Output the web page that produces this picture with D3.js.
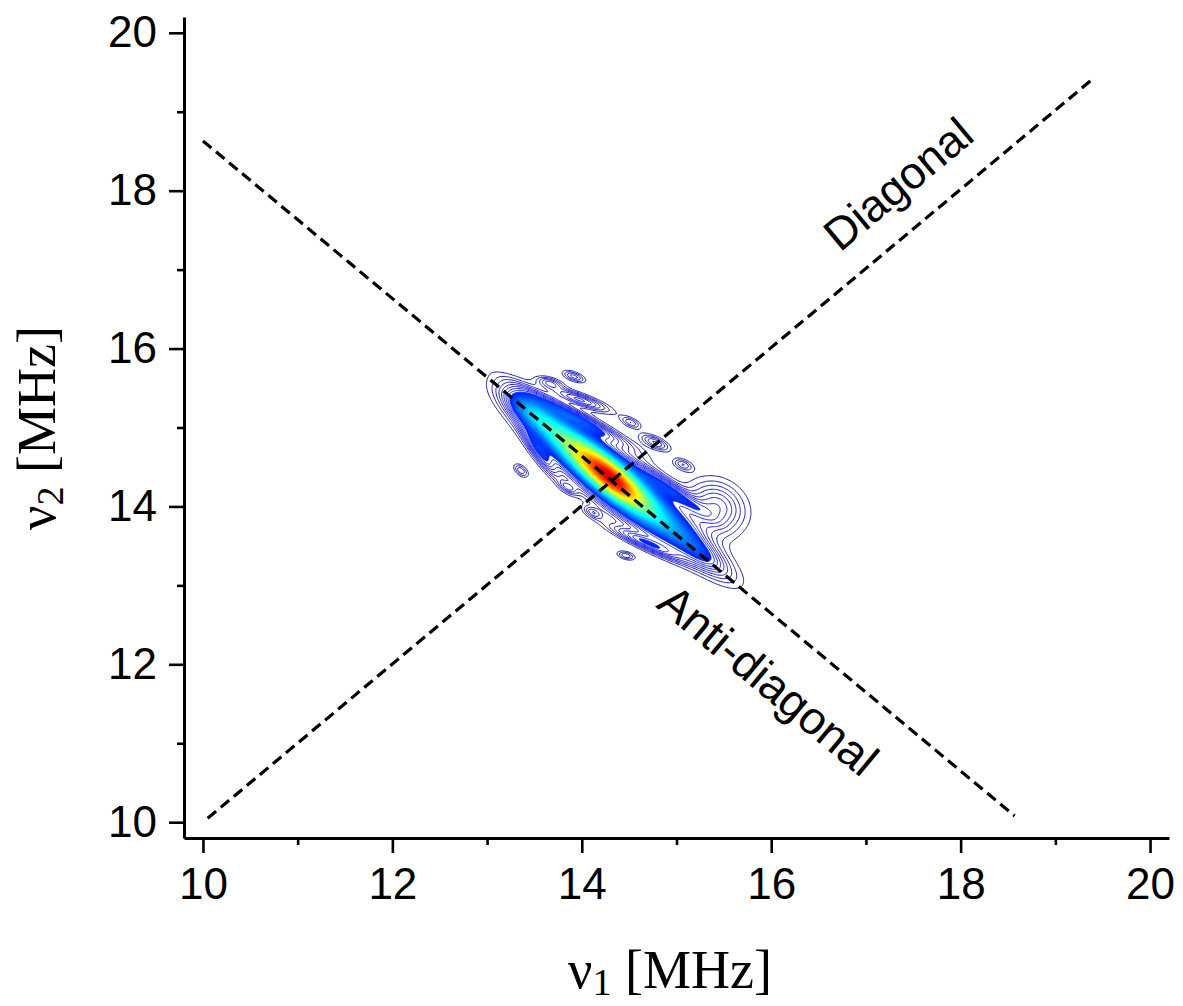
<!DOCTYPE html>
<html>
<head>
<meta charset="utf-8">
<script src="https://cdn.jsdelivr.net/npm/d3@7"></script>
<style>
  body { margin: 0; background: #fff; }
  svg { display: block; }
</style>
</head>
<body>
<div id="chart"></div>
<script>
var W = 1183, H = 1006;

// axis ticks
var xMajor = [10, 12, 14, 16, 18, 20];
var xMinor = [11, 13, 15, 17, 19];
var yMajor = [10, 12, 14, 16, 18, 20];
var yMinor = [11, 13, 15, 17, 19];

// guide lines (MHz)
var diagX = [10.05, 19.40];
var diagY = [10.05, 19.42];
var antiX = [10.00, 18.57];
var antiY = [18.63, 10.08];

// spectrum lobes:
// centre (MHz), relative peak, spread along / across (MHz), tilt (deg)
// first seven build the main anti-diagonal ridge, the rest are the side streaks and islands
var lobeX   = [14.31, 14.36, 13.90, 13.476, 14.784, 15.244, 14.36,
               13.98, 13.98, 13.664, 13.917, 14.519, 14.773, 15.068, 14.931, 15.417,
               13.558, 13.358, 13.854, 14.118, 14.667, 14.466];
var lobeY   = [14.36, 14.31, 14.77, 15.194, 13.886, 13.426, 14.31,
               15.10, 15.353, 15.568, 15.645, 15.062, 14.809, 14.530, 14.214, 13.986,
               14.682, 14.454, 14.239, 13.923, 13.543, 13.378];
var lobeAmp = [0.45, 0.22, 0.28, 0.22, 0.15, 0.12, 0.10,
               0.14, 0.12, 0.08, 0.08, 0.07, 0.09, 0.07, 0.13, 0.12,
               0.12, 0.07, 0.07, 0.07, 0.12, 0.07];
var lobeLen = [0.30, 0.50, 0.35, 0.27, 0.35, 0.30, 0.90,
               0.42, 0.23, 0.10, 0.09, 0.08, 0.12, 0.08, 0.30, 0.24,
               0.24, 0.07, 0.08, 0.08, 0.30, 0.07];
var lobeWid = [0.115, 0.18, 0.14, 0.11, 0.14, 0.10, 0.18,
               0.055, 0.05, 0.045, 0.04, 0.04, 0.05, 0.045, 0.06, 0.20,
               0.05, 0.04, 0.04, 0.04, 0.05, 0.035];
var lobeAng = [-45, -45, -45, -45, -45, -45, -45,
               -33, -24, -20, -25, -30, -30, -30, -40, -60,
               -60, -50, -40, -35, -29, -20];

var levels = d3.range(0.03, 1.0, 0.018);
var fillFrom = 0.16;

var svg = d3.select("#chart").append("svg")
  .attr("width", W).attr("height", H)
  .style("background", "#fff");

var x = d3.scaleLinear().domain([9.8, 20.2]).range([184, 1169]);
var y = d3.scaleLinear().domain([9.8, 20.2]).range([838, 17]);

// ---- contour field on a grid
var step = 0.012, gx0 = 12.7, gy0 = 12.7, nx = 284, ny = 284;
var grid = new Float64Array(nx * ny);
var rad = lobeAng.map(function(a) { return a * Math.PI / 180; });
for (var j = 0; j < ny; j++) {
  var py = gy0 + j * step;
  for (var i = 0; i < nx; i++) {
    var px = gx0 + i * step, v = 0;
    for (var k = 0; k < lobeX.length; k++) {
      var dx = px - lobeX[k], dy = py - lobeY[k];
      var c = Math.cos(rad[k]), s = Math.sin(rad[k]);
      var u = dx * c + dy * s, w = -dx * s + dy * c;
      v += lobeAmp[k] * Math.exp(-(u * u) / (2 * lobeLen[k] * lobeLen[k]) - (w * w) / (2 * lobeWid[k] * lobeWid[k]));
    }
    grid[j * nx + i] = v;
  }
}
var vmax = d3.max(grid);
for (var q = 0; q < grid.length; q++) grid[q] /= vmax;

function clamp(v) { return Math.max(0, Math.min(1, v)); }
function jet(t) {
  return d3.rgb(255 * clamp(1.5 - Math.abs(4 * t - 3)),
                255 * clamp(1.5 - Math.abs(4 * t - 2)),
                255 * clamp(1.5 - Math.abs(4 * t - 1))).toString();
}

var contours = d3.contours().size([nx, ny]).thresholds(levels)(grid);
var path = d3.geoPath(d3.geoTransform({
  point: function(gx, gy) {
    this.stream.point(x(gx0 + (gx - 0.5) * step), y(gy0 + (gy - 0.5) * step));
  }
}));

svg.append("g").selectAll("path")
  .data(contours)
  .join("path")
  .attr("d", path)
  .attr("fill", function(d) { return d.value >= fillFrom ? jet(d.value * 0.92) : "none"; })
  .attr("stroke", function(d) { return jet(d.value * 0.92); })
  .attr("stroke-width", 0.9);

// ---- dashed guide lines
var line = d3.line().x(function(d) { return x(d[0]); }).y(function(d) { return y(d[1]); });
[[diagX, diagY], [antiX, antiY]].forEach(function(l) {
  svg.append("path")
    .attr("d", line(d3.zip(l[0], l[1])))
    .attr("fill", "none")
    .attr("stroke", "#000")
    .attr("stroke-width", 3.2)
    .attr("stroke-dasharray", "11,6");
});

// ---- axes
function styleAxis(g) {
  g.select(".domain").attr("stroke-width", 3);
  g.selectAll(".tick line").attr("stroke-width", 2.6);
  g.selectAll(".tick text")
    .attr("font-family", "'Liberation Sans', Arial, sans-serif")
    .attr("font-size", 44)
    .attr("fill", "#000");
}

var gX = svg.append("g").attr("transform", "translate(0,838)");
gX.call(d3.axisBottom(x).tickValues(xMajor).tickSize(15).tickSizeOuter(0).tickPadding(15).tickFormat(d3.format("d")));
styleAxis(gX);
var gXm = svg.append("g").attr("transform", "translate(0,838)");
gXm.call(d3.axisBottom(x).tickValues(xMinor).tickSize(7).tickFormat(""));
gXm.select(".domain").remove();
styleAxis(gXm);

var gY = svg.append("g").attr("transform", "translate(184,0)");
gY.call(d3.axisLeft(y).tickValues(yMajor).tickSize(15).tickSizeOuter(0).tickPadding(12).tickFormat(d3.format("d")));
styleAxis(gY);
var gYm = svg.append("g").attr("transform", "translate(184,0)");
gYm.call(d3.axisLeft(y).tickValues(yMinor).tickSize(7).tickFormat(""));
gYm.select(".domain").remove();
styleAxis(gYm);

// ---- axis titles
function title(g) {
  return g.append("text")
    .attr("text-anchor", "middle")
    .attr("font-family", "'Liberation Serif', 'Times New Roman', serif")
    .attr("font-size", 54)
    .attr("fill", "#000");
}
var tx = title(svg.append("g").attr("transform", "translate(670,988)"));
tx.append("tspan").text("\u03bd");
tx.append("tspan").attr("font-size", 38).attr("dy", 7).text("1");
tx.append("tspan").attr("dy", -7).text(" [MHz]");

var ty = title(svg.append("g").attr("transform", "translate(55,428) rotate(-90)"));
ty.append("tspan").text("\u03bd");
ty.append("tspan").attr("font-size", 38).attr("dy", 8).text("2");
ty.append("tspan").attr("dy", -8).text(" [MHz]");

// ---- line annotations
var ang = Math.atan2(y(11) - y(10), x(11) - x(10)) * 180 / Math.PI;
svg.append("text")
  .attr("transform", "translate(" + x(16.726) + "," + y(17.214) + ") rotate(" + ang + ")")
  .attr("font-family", "'Liberation Sans', Arial, sans-serif")
  .attr("font-size", 45)
  .text("Diagonal");
svg.append("text")
  .attr("transform", "translate(" + x(14.773) + "," + y(12.733) + ") rotate(" + (-ang) + ")")
  .attr("font-family", "'Liberation Sans', Arial, sans-serif")
  .attr("font-size", 46)
  .text("Anti-diagonal");
</script>
</body>
</html>
